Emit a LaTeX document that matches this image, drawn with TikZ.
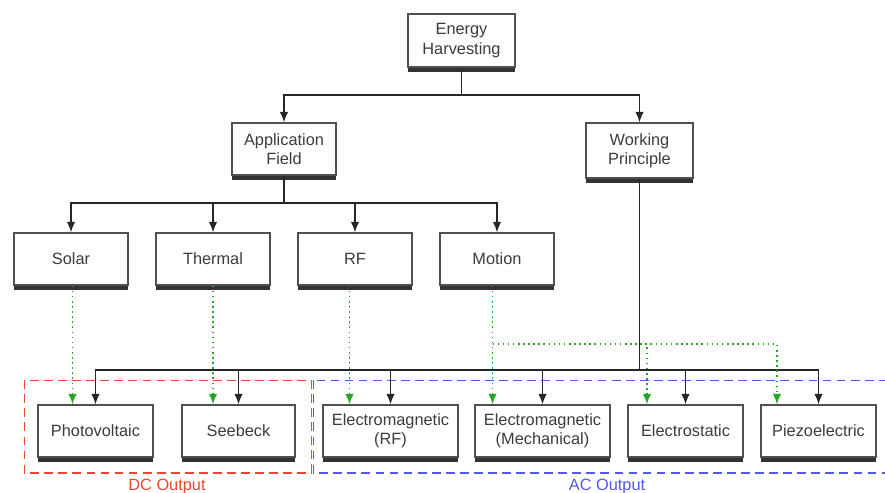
\documentclass[tikz,border=0pt]{standalone}
\usepackage{fontspec}
\setmainfont{Liberation Sans}
\usepackage{xcolor}
\usepackage{tikz}
\usetikzlibrary{shapes,arrows.meta,positioning,shadows}
\definecolor{boxgray}{RGB}{80,80,80}
\definecolor{textgray}{RGB}{60,60,60}
\definecolor{gline}{RGB}{40,165,40}
\definecolor{dcred}{RGB}{235,70,50}
\definecolor{acblue}{RGB}{80,90,235}
\tikzstyle{block} = [draw=boxgray, fill=white, rectangle, line width=0.8pt, text=textgray, align=center, minimum height=1.04cm, minimum width=2.3cm, inner sep=1pt, font=\fontsize{9.3}{11}\selectfont, drop shadow={shadow xshift=0pt, shadow yshift=-0.1cm, fill=black!80, opacity=1}]
\tikzstyle{wide} = [block, minimum width=2.7cm]
\tikzstyle{fan} = [coordinate]
\tikzstyle{link} = [draw=black!85, line width=0.8pt]
\tikzstyle{glink} = [draw=gline, line width=0.9pt, dotted]
\tikzstyle{group} = [line width=0.9pt, dash pattern=on 5pt off 3pt]
\tikzstyle{caption} = [font=\fontsize{9.3}{11}\selectfont]

\begin{document}
\begin{tikzpicture}[auto, node distance=2.84cm, >={Latex[length=0.21cm,width=0.17cm]}]
	  \useasboundingbox (0,0) rectangle (17.7,-9.84);
	  \node [block, minimum width=2.14cm, minimum height=1.06cm] (EH) at (9.23,-0.81) {Energy\\Harvesting};
	  \node [fan, below of=EH, node distance=1.09cm] (split) {};
	  \node [block, minimum width=2.08cm] (AF) at (5.68,-2.98) {Application\\Field};
	  \node [block, minimum width=2.14cm, minimum height=1.1cm] (WP) at (12.79,-3.01) {Working\\Principle};
	  \node [fan, below of=AF, node distance=1.08cm] (fanaf) {};
	  \node [fan, below of=WP, node distance=4.39cm] (fanout) {};
	
	  \node [block, minimum width=2.28cm] (Solar) at (1.42,-5.18) {Solar};
	  \node [block, minimum width=2.28cm, right of=Solar] (Thermal) {Thermal};
	  \node [block, minimum width=2.28cm, right of=Thermal] (RF) {RF};
	  \node [block, minimum width=2.28cm, right of=RF] (Motion) {Motion};
	
	  \node [block] (PV) at (1.91,-8.62) {Photovoltaic};
	  \node [block, minimum width=2.26cm, right of=PV, node distance=2.86cm] (Seebeck) {Seebeck};
	  \node [wide, right of=Seebeck, node distance=3.04cm] (EMRF) {Electromagnetic\\(RF)};
	  \node [wide, right of=EMRF, node distance=3.04cm] (EMM) {Electromagnetic\\(Mechanical)};
	  \node [block, right of=EMM, node distance=2.86cm] (ES) {Electrostatic};
	  \node [block, right of=ES, node distance=2.66cm] (PZ) {Piezoelectric};
	
	  \draw [group, draw=dcred] ([xshift=-0.26cm,yshift=0.48cm]PV.north west) rectangle ([xshift=0.32cm,yshift=-0.3cm]Seebeck.south east);
	  \draw [group, draw=acblue] ([xshift=-0.18cm,yshift=0.48cm]EMRF.north west) rectangle ([xshift=0.5cm,yshift=-0.3cm]PZ.south east);
	  \node [caption, text=dcred] (dc) at (3.34,-9.72) {DC Output};
	  \node [caption, text=acblue] (ac) at (12.14,-9.72) {AC Output};
	
	  \draw [link] (EH) -- (split);
	  \draw [link, ->] (split) -| (AF);
	  \draw [link, ->] (split) -| (WP);
	  \draw [link] (AF) -- (fanaf);
	  \draw [link, ->] (fanaf) -| (Solar);
	  \draw [link, ->] (fanaf) -| (Thermal);
	  \draw [link, ->] (fanaf) -| (RF);
	  \draw [link, ->] (fanaf) -| (Motion);
	  \draw [link] (WP) -- (fanout);
	  \draw [link, ->] (fanout) -| (PV);
	  \draw [link, ->] (fanout) -| (Seebeck);
	  \draw [link, ->] (fanout) -| (EMRF);
	  \draw [link, ->] (fanout) -| (EMM);
	  \draw [link, ->] (fanout) -| (ES);
	  \draw [link, ->] (fanout) -| (PZ);
	
	  \draw [glink, ->] ([xshift=0.03cm]Solar.south) -- ([xshift=0.03cm]Solar.south |- PV.north);
	  \draw [glink, ->] (Thermal.south) -- (Thermal.south |- Seebeck.north);
	  \draw [glink, ->] ([xshift=-0.11cm]RF.south) -- ([xshift=-0.11cm]RF.south |- EMRF.north);
	  \draw [glink, ->] ([xshift=-0.09cm]Motion.south) -- ([xshift=-0.09cm]Motion.south |- EMM.north);
	  \coordinate (mfan) at ([xshift=-0.09cm]Motion.south |- 0,-6.88);
	  \draw [glink, ->] (mfan) -| ([xshift=-0.77cm]ES.north);
	  \draw [glink, ->] (mfan) -| ([xshift=-0.83cm]PZ.north);
	\end{tikzpicture}
\end{document}
